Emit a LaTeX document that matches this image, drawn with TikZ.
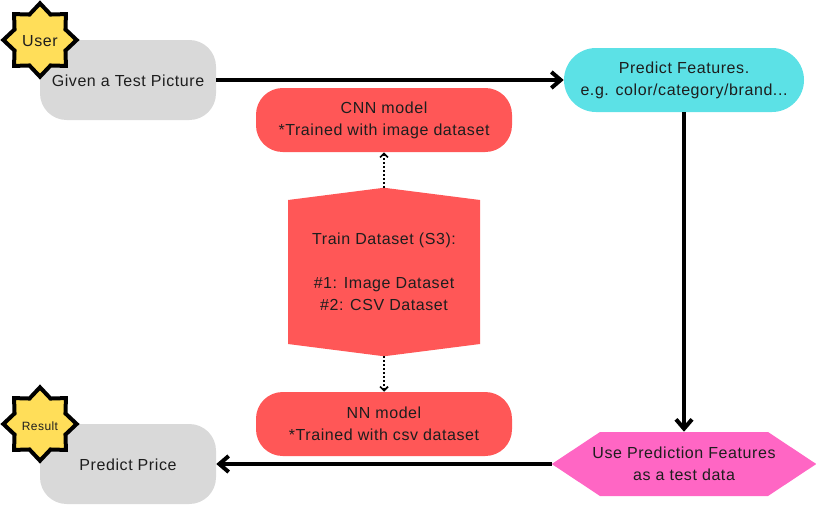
\documentclass[tikz,border=0pt]{standalone}
\usepackage{fontspec}
\setmainfont[LetterSpace=3.6]{Liberation Sans}
\usepackage{xcolor}
\usetikzlibrary{positioning,arrows.meta,shapes.geometric}
\pgfdeclarelayer{background}
\pgfsetlayers{background,main}
\definecolor{boxgray}{HTML}{D9D9D9}
\definecolor{boxred}{HTML}{FF5757}
\definecolor{boxteal}{HTML}{5CE1E6}
\definecolor{boxpink}{HTML}{FF66C4}
\definecolor{boxyellow}{HTML}{FFDE59}
\definecolor{inktext}{HTML}{1E1E1E}
\tikzset{
    every node/.style={text=inktext, align=center, inner sep=0pt, execute at begin node={\rule{0pt}{10.5pt}}},
    font={\fontsize{12pt}{16.5pt}\selectfont},
    flow/.style={draw=black, line width=3pt, -{Straight Barb[length=7pt,width=12pt]}},
    dotflow/.style={draw=black, line width=1.5pt, dash pattern=on 1.5pt off 1.5pt, -{Straight Barb[length=3pt,width=6pt,line width=1.2pt]}},
    badge/.style={
        star,
        star points=8,
        star point ratio=1.33,
        minimum size=55pt,
        draw=black,
        line width=3pt,
        fill=boxyellow
    },
}

\begin{document}
\begin{tikzpicture}
[
    x=0.75pt,
    y=-0.75pt,
    graybox/.style={rectangle, rounded corners=20pt, fill=boxgray, minimum width=132pt, minimum height=60pt},
    tealbox/.style={rectangle, rounded corners=24pt, fill=boxteal, minimum width=180pt, minimum height=48pt},
    redbox/.style={rectangle, rounded corners=20pt, fill=boxred, minimum width=192pt, minimum height=48pt},
    hexred/.style={rectangle, minimum width=144pt, minimum height=126pt},
    hexpink/.style={rectangle, minimum width=198pt, minimum height=48pt},
]
\useasboundingbox (0,0) rectangle (816,504);
\node[graybox] (given) at (128,80) {Given a Test Picture};
\node[graybox] (price) at (128,464) {Predict Price};
\node[badge] (user) at (40,40) {User};
\node[badge, font={\fontsize{9pt}{10pt}\selectfont}] (result) at (40,424) {Result};
\node[tealbox] (features) at (684,80) {Predict Features.\\e.g. color/category/brand...};
\node[redbox] (cnn) at (384,120) {CNN model\\*Trained with image dataset};
\node[redbox] (nn) at (384,424) {NN model\\*Trained with csv dataset};
\node[hexred] (train) at (384,272) {Train Dataset (S3):\\[16.5pt]\#1: Image Dataset\\\#2: CSV Dataset};
\node[hexpink] (usefeat) at (684,464) {Use Prediction Features\\as a test data};
\begin{pgfonlayer}{background}
    \fill[boxred] (train.north) -- (480,200) -- (480,344) -- (train.south) -- (288,344) -- (288,200) -- cycle;
    \fill[boxpink] (600,432) -- (768,432) -- (usefeat.east) -- (768,496) -- (600,496) -- (usefeat.west) -- cycle;
\end{pgfonlayer}

\draw[flow] (given) -- (features);
\draw[flow] (features) -- (usefeat);
\draw[flow] (usefeat) -- (price);
\draw[dotflow] (train) -- (cnn);
\draw[dotflow] (train) -- (nn);
\end{tikzpicture}
\end{document}
